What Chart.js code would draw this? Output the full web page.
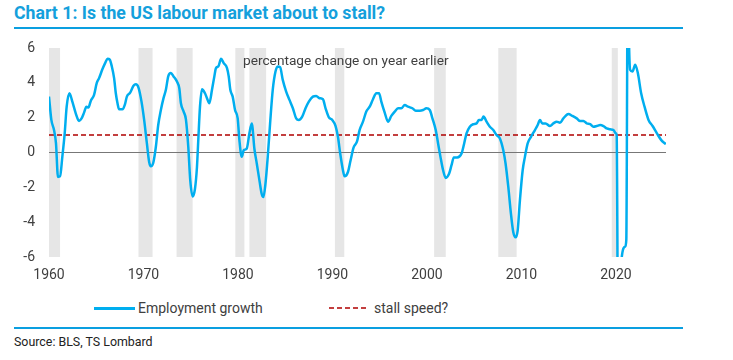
<!DOCTYPE html>
<html>
<head>
<meta charset="utf-8">
<script src="https://cdn.jsdelivr.net/npm/chart.js@4"></script>
<style>
  body { margin: 0; background: #fff; font-family: Roboto, sans-serif; color: #404040; }
  #page { position: relative; width: 733px; height: 360px; overflow: hidden; }
  .abs { position: absolute; white-space: nowrap; }
  .rule { position: absolute; left: 14px; width: 669px; height: 2px; background: #0a9fe0; }
</style>
</head>
<body>
<div id="page">
  <div class="abs" style="left:14px; top:3px; font-weight:bold; font-size:17.7px; line-height:20px; color:#14a0dc;">Chart 1: Is the US labour market about to stall?</div>
  <div class="rule" style="top:27px;"></div>

  <div class="abs" style="left:0; top:0; width:733px; height:290px;"><canvas id="myChart"></canvas></div>

  <div class="abs" style="left:243px; top:52px; font-size:13.7px; line-height:17px; color:#404040;">percentage change on year earlier</div>

  <!-- legend -->
  <div class="abs" style="left:94px; top:307px; width:41px; height:3px; background:#00aeef;"></div>
  <div class="abs" style="left:138px; top:300px; font-size:14px; line-height:16px;">Employment growth</div>
  <svg class="abs" style="left:329px; top:302px;" width="40" height="12"><line x1="0" y1="6" x2="40" y2="6" stroke="#b00000" stroke-width="1.5" stroke-dasharray="5 3"/></svg>
  <div class="abs" style="left:374px; top:300px; font-size:14px; line-height:16px;">stall speed?</div>

  <div class="rule" style="top:327px;"></div>
  <div class="abs" style="left:14px; top:334px; font-size:12.4px; line-height:16px; color:#222;">Source: BLS, TS Lombard</div>
</div>

<script>
// Employment growth, % y/y
var years = [
    1960.0, 1960.25, 1960.53, 1960.74, 1960.95, 1961.17, 1961.41, 1961.66, 1961.87, 1962.16,
    1962.47, 1962.83, 1963.18, 1963.43, 1963.71, 1963.96, 1964.17, 1964.42, 1964.77, 1965.05,
    1965.30, 1965.66, 1965.94, 1966.19, 1966.43, 1966.65, 1966.89, 1967.07, 1967.25, 1967.42,
    1967.78, 1968.02, 1968.24, 1968.59, 1968.94, 1969.19, 1969.47, 1969.79, 1970.07, 1970.36,
    1970.60, 1970.78, 1971.03, 1971.31, 1971.56, 1971.84, 1972.12, 1972.37, 1972.62, 1972.90,
    1973.18, 1973.54, 1973.79, 1973.96, 1974.25, 1974.49, 1974.74, 1974.95, 1975.20, 1975.45,
    1975.66, 1975.80, 1975.98, 1976.19, 1976.51, 1976.72, 1976.97, 1977.25, 1977.50, 1977.67,
    1977.92, 1978.21, 1978.49, 1978.84, 1979.02, 1979.19, 1979.44, 1979.69, 1979.97, 1980.15,
    1980.40, 1980.61, 1980.93, 1981.21, 1981.46, 1981.74, 1981.99, 1982.27, 1982.52, 1982.69,
    1982.91, 1983.15, 1983.40, 1983.68, 1983.97, 1984.21, 1984.46, 1984.74, 1985.10, 1985.45,
    1985.81, 1986.16, 1986.44, 1986.80, 1987.15, 1987.50, 1987.93, 1988.28, 1988.63, 1988.99,
    1989.27, 1989.62, 1989.98, 1990.33, 1990.58, 1990.82, 1991.11, 1991.28, 1991.64, 1991.92,
    1992.24, 1992.59, 1992.87, 1993.23, 1993.58, 1993.94, 1994.29, 1994.64, 1994.93, 1995.17,
    1995.53, 1995.88, 1996.23, 1996.59, 1996.94, 1997.29, 1997.65, 1998.00, 1998.46, 1998.81,
    1999.24, 1999.59, 1999.94, 2000.30, 2000.58, 2000.93, 2001.18, 2001.43, 2001.71, 2001.99,
    2002.35, 2002.60, 2002.84, 2003.20, 2003.66, 2003.94, 2004.19, 2004.54, 2004.89, 2005.25,
    2005.50, 2005.78, 2005.99, 2006.31, 2006.66, 2007.02, 2007.37, 2007.72, 2008.08, 2008.32,
    2008.61, 2008.89, 2009.14, 2009.38, 2009.60, 2009.84, 2010.13, 2010.37, 2010.66, 2011.01,
    2011.43, 2011.72, 2011.96, 2012.21, 2012.56, 2013.02, 2013.38, 2013.73, 2014.08, 2014.44,
    2014.97, 2015.39, 2015.85, 2016.21, 2016.56, 2016.91, 2017.27, 2017.62, 2017.97, 2018.33,
    2018.68, 2019.03, 2019.39, 2019.74, 2019.99, 2020.08, 2020.25, 2020.42, 2020.62, 2020.98,
    2021.10, 2021.25, 2021.35, 2021.50, 2021.75, 2022.04, 2022.32, 2022.67, 2023.03, 2023.45,
    2023.88, 2024.34, 2024.80, 2025.29
];
var employmentGrowth = [
    3.21, 1.87, 1.29, 0.52, -1.40, -1.37, -0.25, 1.10, 2.63, 3.40,
    2.92, 2.25, 1.81, 1.94, 2.29, 2.63, 2.58, 2.96, 3.31, 3.98,
    4.27, 4.79, 5.13, 5.38, 5.33, 4.94, 4.27, 3.40, 2.83, 2.48,
    2.48, 2.73, 3.21, 3.44, 3.83, 3.92, 3.73, 2.92, 1.87, 0.52,
    -0.54, -0.79, -0.60, 0.33, 1.58, 2.44, 3.12, 3.60, 4.37, 4.56,
    4.37, 4.08, 3.69, 2.83, 2.35, 1.90, 0.33, -1.60, -2.52, -2.08,
    -0.83, 0.71, 2.63, 3.63, 3.40, 3.12, 2.83, 3.60, 4.37, 4.85,
    4.94, 5.38, 5.13, 4.85, 4.37, 3.60, 3.21, 2.44, 1.96, 0.71,
    -0.25, 0.13, 0.23, 1.10, 1.67, 0.20, -0.63, -1.60, -2.40, -2.56,
    -1.79, -0.25, 1.67, 3.60, 4.65, 4.94, 4.90, 4.17, 3.50, 3.02,
    2.54, 1.96, 1.87, 2.06, 2.54, 2.92, 3.21, 3.25, 3.12, 3.06,
    2.54, 2.02, 1.87, 1.52, 0.90, -0.06, -1.02, -1.37, -1.12, -0.44,
    0.29, 0.62, 1.29, 1.77, 2.35, 2.63, 3.06, 3.40, 3.40, 2.92,
    2.29, 1.77, 2.10, 2.35, 2.54, 2.54, 2.73, 2.63, 2.54, 2.40,
    2.40, 2.44, 2.54, 2.44, 1.96, 1.29, 0.52, -0.25, -1.02, -1.46,
    -1.21, -0.73, -0.29, -0.29, -0.06, 0.52, 1.10, 1.48, 1.62, 1.67,
    1.87, 1.87, 2.06, 1.77, 1.48, 1.29, 1.00, 0.81, 0.13, -0.63,
    -1.98, -3.52, -4.58, -4.87, -4.48, -2.75, -1.02, -0.25, 0.52, 0.90,
    1.29, 1.58, 1.87, 1.67, 1.67, 1.52, 1.67, 1.77, 1.71, 1.96,
    2.21, 2.10, 1.96, 1.81, 1.81, 1.67, 1.63, 1.48, 1.52, 1.58,
    1.52, 1.38, 1.33, 1.29, 1.10, 1.00, -13.0, -10.0, -6.0, -5.4,
    -5.0, 10.0, 7.0, 4.75, 4.65, 5.04, 4.56, 3.40, 2.63, 1.87,
    1.52, 1.10, 0.71, 0.48
];

var stallSpeed = 1;

// recessions (shaded)
var recessionStart = [1959.9, 1969.47, 1973.5, 1979.72, 1981.21, 1990.26, 2000.76, 2007.55, 2019.56];
var recessionEnd   = [1961.17, 1970.96, 1975.2, 1980.68, 1982.98, 1991.25, 2001.99, 2009.49, 2020.2];

var xTicks = [1960, 1970, 1980, 1990, 2000, 2010, 2020];
var yTicks = [-6, -4, -2, 0, 2, 4, 6];

var xMin = 1960, xMax = 2025.3;

// shaded bands, drawn before the axes so the zero line sits on top
var recessionBands = {
    id: 'recessionBands',
    beforeDraw: function (chart) {
        var ctx = chart.ctx, x = chart.scales.x, area = chart.chartArea;
        ctx.save();
        ctx.fillStyle = '#e6e6e6';
        recessionStart.forEach(function (s, i) {
            var x0 = x.getPixelForValue(Math.max(s, xMin));
            var x1 = x.getPixelForValue(recessionEnd[i]);
            ctx.fillRect(x0, area.top, x1 - x0, area.bottom - area.top);
        });
        ctx.restore();
    }
};

var chartData = {
    datasets: [{
        label: 'Employment growth',
        data: years.map(function (yr, i) { return { x: yr, y: employmentGrowth[i] }; }),
        borderColor: '#00aeef',
        borderWidth: 2.5,
        pointRadius: 0,
        cubicInterpolationMode: 'monotone',
        fill: false
    }, {
        label: 'stall speed?',
        data: [{ x: xMin, y: stallSpeed }, { x: xMax, y: stallSpeed }],
        borderColor: '#b00000',
        borderWidth: 1.5,
        borderDash: [5, 3],
        pointRadius: 0,
        fill: false
    }]
};

var chartConfig = {
    type: 'line',
    data: chartData,
    plugins: [recessionBands],
    options: {
        responsive: true,
        maintainAspectRatio: false,
        animation: false,
        layout: { padding: { left: 0, right: 67, top: 48, bottom: 0 } },
        plugins: {
            legend: { display: false },
            tooltip: { enabled: false }
        },
        scales: {
            x: {
                type: 'linear',
                min: xMin,
                max: xMax,
                afterBuildTicks: function (axis) {
                    axis.ticks = xTicks.map(function (v) { return { value: v }; });
                },
                afterFit: function (axis) { axis.height = 33; },
                grid: { display: false, drawTicks: false },
                border: { display: false },
                ticks: {
                    padding: 10,
                    maxRotation: 0,
                    color: '#404040',
                    font: { family: 'Roboto', size: 14 },
                    callback: function (v) { return String(v); }
                }
            },
            y: {
                min: -6,
                max: 6,
                afterBuildTicks: function (axis) {
                    axis.ticks = yTicks.map(function (v) { return { value: v }; });
                },
                afterFit: function (axis) { axis.width = 49; },
                grid: {
                    drawTicks: false,
                    lineWidth: 1,
                    color: function (c) { return c.tick && c.tick.value === 0 ? '#777777' : 'rgba(0,0,0,0)'; }
                },
                border: { display: false },
                ticks: {
                    padding: 14,
                    color: '#404040',
                    font: { family: 'Roboto', size: 14 }
                }
            }
        }
    }
};

var myChart = new Chart(document.getElementById('myChart'), chartConfig);
</script>
</body>
</html>
